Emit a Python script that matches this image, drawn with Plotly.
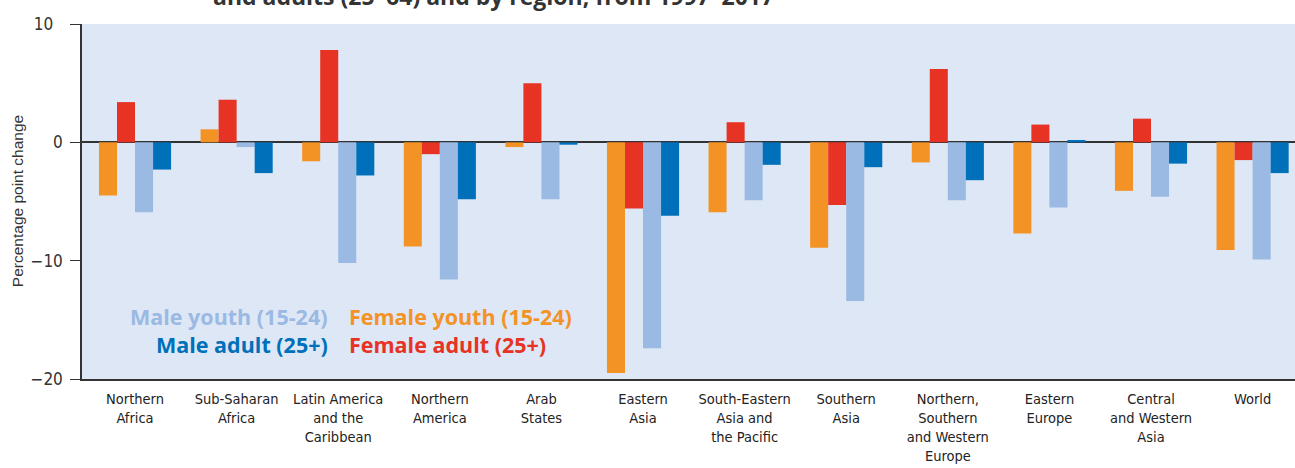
import plotly.graph_objects as go

categories = [
    "Northern<br>Africa", "Sub-Saharan<br>Africa", "Latin America<br>and the<br>Caribbean",
    "Northern<br>America", "Arab<br>States", "Eastern<br>Asia",
    "South-Eastern<br>Asia and<br>the Pacific", "Southern<br>Asia",
    "Northern,<br>Southern<br>and Western<br>Europe", "Eastern<br>Europe",
    "Central<br>and Western<br>Asia", "World",
]
female_youth = [-4.5, 1.1, -1.6, -8.8, -0.4, -19.5, -5.9, -8.9, -1.7, -7.7, -4.1, -9.1]
female_adult = [3.4, 3.6, 7.8, -1.0, 5.0, -5.6, 1.7, -5.3, 6.2, 1.5, 2.0, -1.5]
male_youth = [-5.9, -0.4, -10.2, -11.6, -4.8, -17.4, -4.9, -13.4, -4.9, -5.5, -4.6, -9.9]
male_adult = [-2.3, -2.6, -2.8, -4.8, -0.2, -6.2, -1.9, -2.1, -3.2, 0.2, -1.8, -2.6]
y_tickvals = [-20, -10, 0, 10]
y_ticktext = ["−20", "−10", "0", "10\u2007"]

series = [
    ("Female youth (15-24)", female_youth, "#F39325"),
    ("Female adult (25+)", female_adult, "#E63323"),
    ("Male youth (15-24)", male_youth, "#9AB9E3"),
    ("Male adult (25+)", male_adult, "#0070BA"),
]

# body margin is removed by the post script, so the figure starts at the page corner
OFF = 0
W, H = 1303, 468
L, R, T, B = 82 - OFF, 0, 24 - OFF, 468 + OFF - 378.7
pw, ph = W - L - R, H - T - B
X0, Y1 = 82, 378.7  # screen pixels of plot-area left and bottom

def px(x):
    return (x - X0) / pw

def py(y):
    return (Y1 - y) / ph

fig = go.Figure()
xs = list(range(len(categories)))
for name, vals, col in series:
    fig.add_trace(go.Bar(x=xs, y=vals, name=name, marker=dict(color=col, line=dict(width=0)),
                         showlegend=False))

cond = "DejaVu Sans Condensed, Liberation Sans Narrow, sans-serif"

fig.update_layout(
    width=W, height=H,
    margin=dict(l=L, r=R, t=T, b=B, pad=0),
    paper_bgcolor="white",
    plot_bgcolor="#DEE7F5",
    barmode="group", bargap=0.29, bargroupgap=0,
    font=dict(family="Liberation Sans, Arial, sans-serif", color="#333333"),
    xaxis=dict(
        range=[-0.522, 11.496], tickmode="array", tickvals=xs, ticktext=categories,
        showgrid=False, zeroline=False, showline=True, linecolor="#333333", linewidth=2,
        ticks="", tickfont=dict(family=cond, size=14.5, color="#222222"),
        tickangle=0, mirror=False, ticklabelstandoff=6,
    ),
    yaxis=dict(
        range=[-20, 10], tickmode="array", tickvals=y_tickvals, ticktext=y_ticktext,
        showgrid=False,
        zeroline=True, zerolinecolor="#333333", zerolinewidth=1.5,
        showline=True, linecolor="#333333", linewidth=1.5,
        ticks="outside", ticklen=10, tickwidth=1.2, tickcolor="#333333", ticklabelstandoff=4,
        tickfont=dict(family="DejaVu Sans Condensed, Liberation Sans, sans-serif", size=17, color="#333333"),
    ),
)

ann = []
ann.append(dict(text="Percentage point change", x=px(17), y=py(201), xref="paper", yref="paper",
                textangle=-90, showarrow=False, xanchor="center", yanchor="middle",
                font=dict(size=15.5, color="#333333", family="Liberation Sans, Arial, sans-serif")))
ann.append(dict(text="<b>and adults (25–64) and by region, from 1997–2017</b>", x=px(493), y=py(14),
                xref="paper", yref="paper", showarrow=False, xanchor="center", yanchor="bottom",
                font=dict(size=23, color="#333333", family="Open Sans, Arial, sans-serif")))
leg_font = "Open Sans, Arial, sans-serif"
legend_items = [
    ("<b>Male youth (15-24)</b>", "#9AB9E3", 330, 316, "right"),
    ("<b>Female youth (15-24)</b>", "#F39325", 347, 316, "left"),
    ("<b>Male adult (25+)</b>", "#0070BA", 330, 344, "right"),
    ("<b>Female adult (25+)</b>", "#E63323", 347, 344, "left"),
]
for t, c, x, y, anc in legend_items:
    ann.append(dict(text=t, x=px(x), y=py(y), xref="paper", yref="paper", showarrow=False,
                    xanchor=anc, yanchor="middle", font=dict(size=21.5, color=c, family=leg_font)))
fig.update_layout(annotations=ann)

fig.write_html("out.html", config={"displayModeBar": False},
               post_script="document.body.style.margin='0';document.body.style.overflow='hidden';")
